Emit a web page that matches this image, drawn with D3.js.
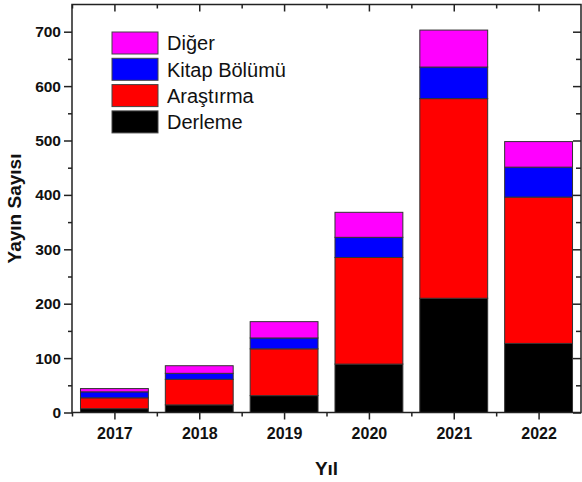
<!DOCTYPE html>
<html><head><meta charset="utf-8">
<script src="https://cdn.jsdelivr.net/npm/d3@7"></script>
<style>body{margin:0;background:#fff}svg{display:block;font-family:"Liberation Sans",Arial,sans-serif}</style>
</head><body>
<svg id="c" width="582" height="482"></svg>
<script>
const years = [2017, 2018, 2019, 2020, 2021, 2022];
const derleme = [7, 14, 31, 89, 210, 127];
const arastirma = [20, 47, 86, 196, 367, 269];
const kitap = [11, 11, 20, 37, 58, 55];
const diger = [6, 14, 30, 46, 68, 47];
const seriesNames = ["Derleme", "Araştırma", "Kitap Bölümü", "Diğer"];
const seriesColors = ["#000000", "#ff0000", "#0000ff", "#ff00ff"];
const yTicks = [0, 100, 200, 300, 400, 500, 600, 700];
const yMinor = [50, 150, 250, 350, 450, 550, 650, 750];
const xMinor = [2016.5, 2017.5, 2018.5, 2019.5, 2020.5, 2021.5];

const svg = d3.select("#c");
const L = 72, R = 581, T = 4.5, B = 412.5;
const x = d3.scaleLinear().domain([2016.5, 2022.5]).range([L, R]);
const y = d3.scaleLinear().domain([0, 750]).range([B, T]);
const bw = (x(2018) - x(2017)) * 0.8;

const rows = years.map((yr, i) => ({year: yr, Derleme: derleme[i], "Araştırma": arastirma[i], "Kitap Bölümü": kitap[i], "Diğer": diger[i]}));
const stack = d3.stack().keys(seriesNames)(rows);

const g = svg.append("g");
stack.forEach((s, si) => {
  g.selectAll(null).data(s).join("rect")
    .attr("x", d => x(d.data.year) - bw / 2)
    .attr("width", bw)
    .attr("y", d => y(d[1]))
    .attr("height", d => y(d[0]) - y(d[1]))
    .attr("fill", seriesColors[si])
    .attr("stroke", "#333")
    .attr("stroke-width", 1);
});

const axStyle = sel => { sel.select(".domain").remove(); sel.selectAll("line").attr("stroke", "#222").attr("stroke-width", 1.5); };

// left axis
const left = svg.append("g").attr("transform", `translate(${L},0)`)
  .call(d3.axisLeft(y).tickValues(yTicks).tickSize(8).tickPadding(3).tickFormat(d3.format("d")));
axStyle(left);
left.selectAll("text").attr("font-size", 15.5).attr("font-weight", "bold").attr("fill", "#111");
svg.append("g").attr("transform", `translate(${L},0)`)
  .call(d3.axisLeft(y).tickValues(yMinor.slice(0, 7)).tickSize(4).tickFormat("")).call(axStyle);
// right axis (inward)
svg.append("g").attr("transform", `translate(${R},0)`)
  .call(d3.axisLeft(y).tickValues(yTicks).tickSize(8).tickFormat("")).call(axStyle);
svg.append("g").attr("transform", `translate(${R},0)`)
  .call(d3.axisLeft(y).tickValues(yMinor.slice(0, 7)).tickSize(5).tickFormat("")).call(axStyle);
// bottom axis
const bottom = svg.append("g").attr("transform", `translate(0,${B})`)
  .call(d3.axisBottom(x).tickValues(years).tickSize(7).tickPadding(8).tickFormat(d3.format("d")));
axStyle(bottom);
bottom.selectAll("text").attr("font-size", 16).attr("font-weight", "bold").attr("fill", "#111");
svg.append("g").attr("transform", `translate(0,${B})`)
  .call(d3.axisBottom(x).tickValues(xMinor).tickSize(4).tickFormat("")).call(axStyle);
// top axis (inward)
svg.append("g").attr("transform", `translate(0,${T})`)
  .call(d3.axisBottom(x).tickValues(years).tickSize(7).tickFormat("")).call(axStyle);
svg.append("g").attr("transform", `translate(0,${T})`)
  .call(d3.axisBottom(x).tickValues(xMinor).tickSize(4).tickFormat("")).call(axStyle);

// frame
svg.append("rect").attr("x", L).attr("y", T).attr("width", R - L).attr("height", B - T)
  .attr("fill", "none").attr("stroke", "#222").attr("stroke-width", 1.5);

// titles
svg.append("text").attr("x", (L + R) / 2).attr("y", 475).attr("text-anchor", "middle")
  .attr("font-size", 19).attr("font-weight", "bold").attr("fill", "#111").text("Yıl");
svg.append("text").attr("transform", `translate(21,${(T + B) / 2}) rotate(-90)`).attr("text-anchor", "middle")
  .attr("font-size", 19).attr("font-weight", "bold").attr("fill", "#111").text("Yayın Sayısı");

// legend
const legendOrder = [3, 2, 1, 0];
const lg = svg.append("g");
legendOrder.forEach((si, k) => {
  const yy = 32 + k * 26.3;
  lg.append("rect").attr("x", 112).attr("y", yy).attr("width", 46).attr("height", 22)
    .attr("fill", seriesColors[si]).attr("stroke", "#444").attr("stroke-width", 1);
  lg.append("text").attr("x", 167).attr("y", yy + 11).attr("dy", "0.36em")
    .attr("font-size", 20).attr("fill", "#111").text(seriesNames[si]);
});
</script>
</body></html>
